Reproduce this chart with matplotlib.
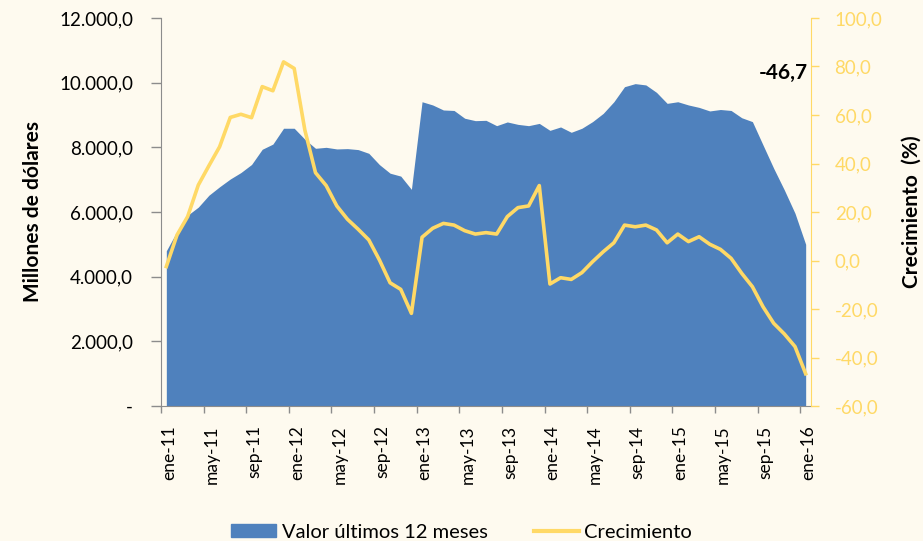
import matplotlib
matplotlib.use("Agg")
import matplotlib.pyplot as plt
from matplotlib.patches import Patch
from matplotlib.lines import Line2D
from matplotlib.legend_handler import HandlerLine2D

plt.rcParams['font.family'] = ['Lato', 'DejaVu Sans']

months_es = ["ene", "feb", "mar", "abr", "may", "jun", "jul", "ago", "sep", "oct", "nov", "dic"]
categories = [f"{months_es[m]}-{str(y)[2:]}" for y in range(2011, 2016) for m in range(12)] + ["ene-16"]

valor = [4800, 5400, 5900, 6150, 6520, 6780, 7020, 7220, 7470, 7940,
         8100, 8590, 8590, 8250, 7970, 8000, 7950, 7960, 7930, 7815,
         7465, 7200, 7110, 6700, 9410, 9310, 9155, 9140, 8900, 8825,
         8835, 8670, 8785, 8710, 8670, 8740, 8525, 8630, 8465, 8590,
         8795, 9050, 9410, 9875, 9970, 9930, 9700, 9360, 9410, 9310,
         9235, 9125, 9170, 9140, 8915, 8795, 8070, 7350, 6680, 5960,
         5000]

crecimiento = [-2.5, 10.5, 18.1, 31.1, 39.1, 46.9, 59.0, 60.3, 58.9, 71.7,
               70.0, 81.9, 79.2, 53.8, 36.2, 30.9, 22.5, 17.0, 12.9, 8.5,
               0.2, -9.2, -11.9, -21.8, 9.6, 13.3, 15.3, 14.6, 12.3, 10.9,
               11.5, 10.9, 18.1, 21.8, 22.5, 30.9, -9.7, -7.1, -7.8, -5.0,
               -0.5, 3.6, 7.3, 14.6, 13.9, 14.6, 12.6, 7.3, 10.9, 7.8,
               9.8, 6.7, 4.6, 0.9, -5.3, -10.8, -19.1, -25.9, -30.3, -35.5,
               -46.7]

left_ticks = [0, 2000, 4000, 6000, 8000, 10000, 12000]
left_labels = ["-", "2.000,0", "4.000,0", "6.000,0", "8.000,0", "10.000,0", "12.000,0"]
right_ticks = [-60, -40, -20, 0, 20, 40, 60, 80, 100]
right_labels = ["-60,0", "-40,0", "-20,0", "0,0", "20,0", "40,0", "60,0", "80,0", "100,0"]

bg = "#FEFAEF"
blue = "#4F81BD"
yellow = "#FFD966"
grey = "#8C8C8C"

fig = plt.figure(figsize=(9.23, 5.41), dpi=100, facecolor=bg)
ax = fig.add_axes([161/923, 1-406/541, 650/923, 388/541])
ax.set_facecolor(bg)
x = list(range(len(categories)))
ax.fill_between(x, valor, 0, color=blue, linewidth=0, zorder=2)
ax.set_xlim(-0.5, len(categories) - 0.5)
ax.set_ylim(0, 12000)
ax.set_yticks(left_ticks)
ax.set_yticklabels(left_labels, fontsize=13.5, color="black")
tick_pos = [i - 0.5 for i in range(0, len(categories), 4)]
ax.set_xticks(tick_pos)
ax.set_xticklabels([categories[i] for i in range(0, len(categories), 4)],
                   rotation=90, fontsize=12.5, ha='left')
ax.tick_params(axis='x', direction='out', length=5, color=grey, width=1, pad=9)
ax.tick_params(axis='y', direction='out', length=7, color=grey, width=1, pad=13)
for s in ["top", "right"]:
    ax.spines[s].set_visible(False)
ax.spines["left"].set_color(grey)
ax.spines["bottom"].set_color(grey)
ax.set_ylabel("Millones de dólares", fontsize=15, fontweight="bold", labelpad=12)

ax2 = ax.twinx()
ax2.plot(x, crecimiento, color=yellow, linewidth=2.6, zorder=3, solid_joinstyle='round')
ax2.set_ylim(-60, 100)
ax2.set_yticks(right_ticks)
ax2.set_yticklabels(right_labels, fontsize=13.5, color=yellow)
ax2.tick_params(axis='y', direction='out', length=6, color=yellow, width=1, pad=11)
for s in ["top", "left", "bottom"]:
    ax2.spines[s].set_visible(False)
ax2.spines["right"].set_color(yellow)
ax2.set_ylabel("Crecimiento  (%)", fontsize=15, fontweight="bold", labelpad=14)
ax2.text(len(categories) - 0.8, 77.5, f"{crecimiento[-1]:.1f}".replace(".", ","),
         ha="right", va="center", fontsize=15, fontweight="bold")

line_handle = Line2D([0], [0], color=yellow, linewidth=3)
handles = [Patch(facecolor=blue, edgecolor=blue), line_handle]
fig.legend(handles, ["Valor últimos 12 meses", "Crecimiento"], loc="center",
           bbox_to_anchor=(0.5, 1-532/541), ncol=2, frameon=False, fontsize=14.5,
           handlelength=2.25, handleheight=0.65, columnspacing=2.3, handletextpad=0.25,
           handler_map={line_handle: HandlerLine2D(marker_pad=0)})

fig.savefig("out.png", dpi=100, facecolor=bg)
